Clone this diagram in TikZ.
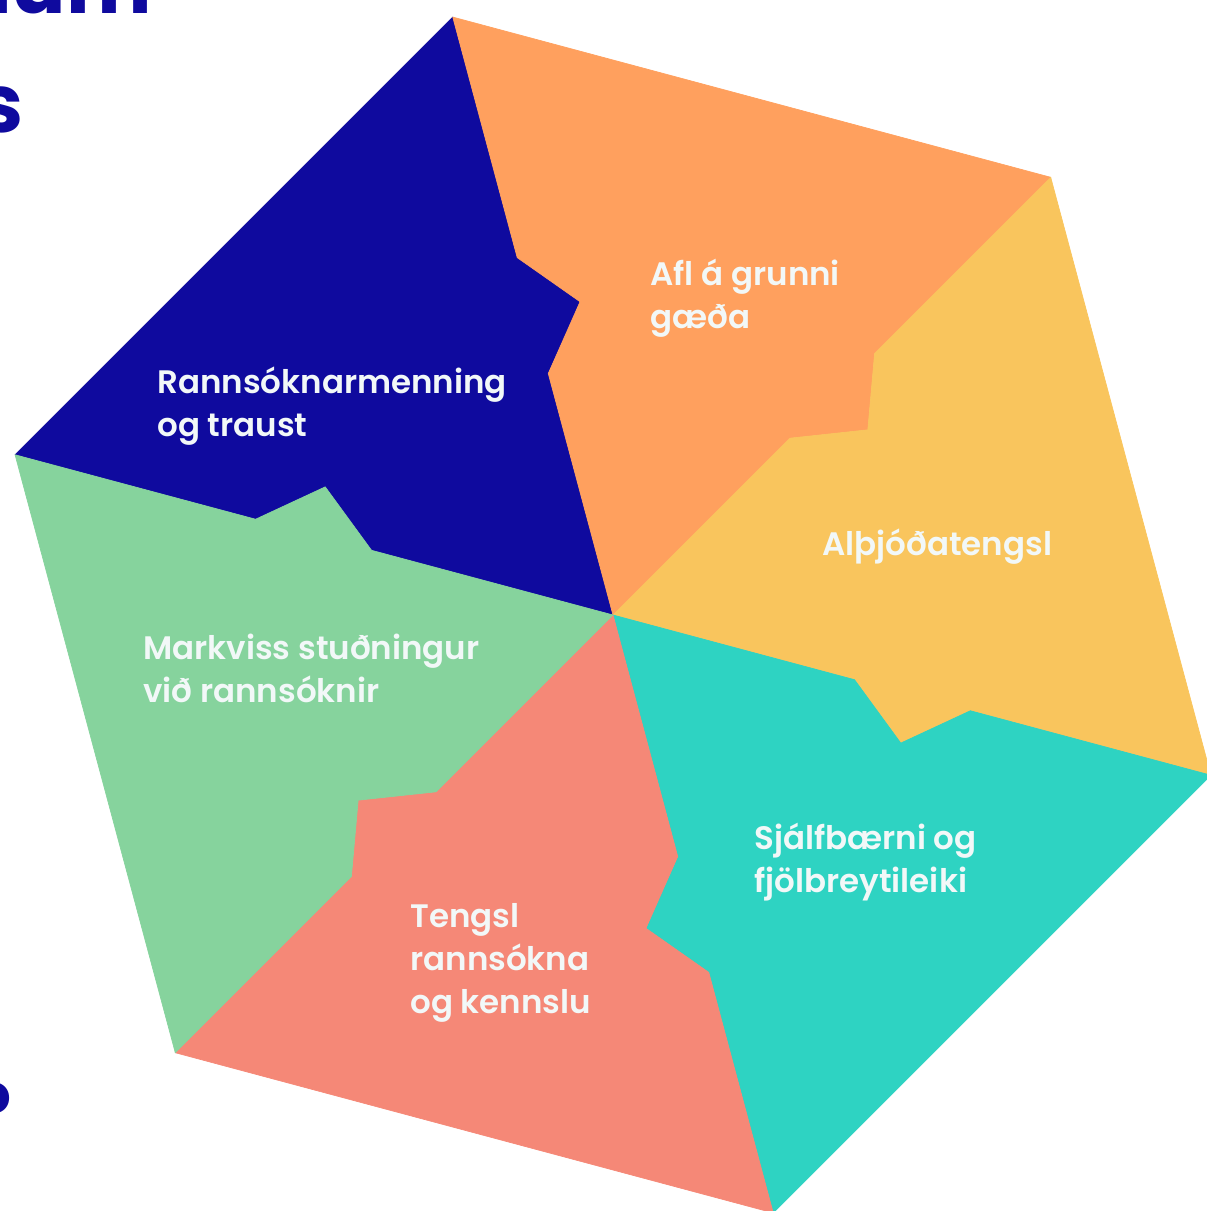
\documentclass[tikz,border=0pt]{standalone}
\usepackage{fontspec}
\setmainfont{Poppins}
\newfontfamily\piecefont{Poppins SemiBold}
\usepackage{tikz}
\definecolor{hinavy}{HTML}{0F0A9E}
\definecolor{hiorange}{HTML}{FFA05E}
\definecolor{hiyellow}{HTML}{F9C55D}
\definecolor{hiteal}{HTML}{2ED3C2}
\definecolor{hisalmon}{HTML}{F58877}
\definecolor{higreen}{HTML}{86D39D}
\definecolor{hiwhite}{HTML}{F2F8F8}

\begin{document}
\begin{tikzpicture}[x=0.02cm, y=0.02cm,
  piece/.style={fill=#1, draw=#1, line width=0.4pt, line join=round},
  txt/.style={anchor=base west, inner sep=0pt, align=left, text=hiwhite, font=\piecefont\fontsize{18.5}{24.2}\selectfont},
  heading/.style={anchor=base east, inner sep=0pt, text=hinavy, font=\bfseries\fontsize{#1}{#1}\selectfont},
  ]
  \useasboundingbox (-613,-596) rectangle (594,615);
  \clip (-613,-596) rectangle (594,615);

  % spokes of the hexagon, each with its notch
  \coordinate (O) at (0,0);
  \foreach \k/\a in {1/105, 2/45, 3/-15, 4/-75, 5/-135, 6/165} {
    \coordinate (in\k) at (\a:250);
    \coordinate (tip\k) at (\a-9:315);
    \coordinate (out\k) at (\a:370);
    \coordinate (v\k) at (\a:619);
  }

  \path[piece=hinavy] (O) -- (in6) -- (tip6) -- (out6) -- (v6) -- (v1) -- (out1) -- (tip1) -- (in1) -- cycle;
  \path[piece=hiorange] (O) -- (in1) -- (tip1) -- (out1) -- (v1) -- (v2) -- (out2) -- (tip2) -- (in2) -- cycle;
  \path[piece=hiyellow] (O) -- (in2) -- (tip2) -- (out2) -- (v2) -- (v3) -- (out3) -- (tip3) -- (in3) -- cycle;
  \path[piece=hiteal] (O) -- (in3) -- (tip3) -- (out3) -- (v3) -- (v4) -- (out4) -- (tip4) -- (in4) -- cycle;
  \path[piece=hisalmon] (O) -- (in4) -- (tip4) -- (out4) -- (v4) -- (v5) -- (out5) -- (tip5) -- (in5) -- cycle;
  \path[piece=higreen] (O) -- (in5) -- (tip5) -- (out5) -- (v5) -- (v6) -- (out6) -- (tip6) -- (in6) -- cycle;

  % labels, placed at the baseline of their last line
  \node[txt] (culture) at (-456,179) {Rannsóknarmenning\\og traust};
  \node[txt] (quality) at (37,287) {Afl á grunni\\gæða};
  \node[txt] (intl) at (209,60) {Alþjóðatengsl};
  \node[txt] (support) at (-470,-87) {Markviss stuðningur\\við rannsóknir};
  \node[txt] (sustain) at (141,-277) {Sjálfbærni og\\fjölbreytileiki};
  \node[txt] (teaching) at (-203,-398) {Tengsl\\rannsókna\\og kennslu};

  % cut-off title letters at the left edge
  \node[heading=46] (head1) at (-461,601) {num};
  \node[heading=46] (head2) at (-589,482) {s};
  \node[heading=31] (head3) at (-601,-498) {o};
\end{tikzpicture}
\end{document}
